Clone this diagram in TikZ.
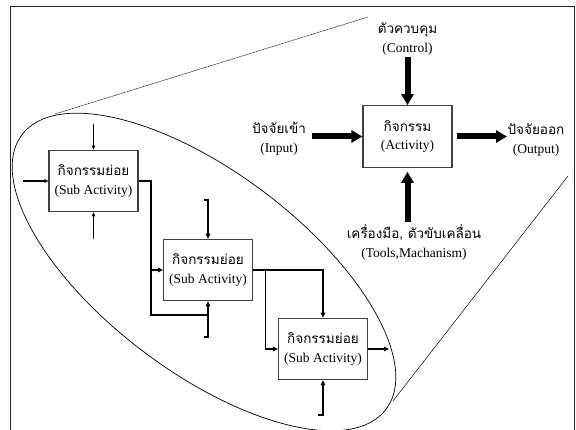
\documentclass[tikz,border=0pt]{standalone}
\usepackage{fontspec}
\setmainfont{Liberation Serif}
\newfontfamily\thai[Script=Thai]{Loma}
\usetikzlibrary{arrows.meta}
\begin{document}
\begin{tikzpicture}[x=1pt,y=-1pt,
  box/.style={draw=black!75, line width=1.2pt, minimum width=89pt, minimum height=61.5pt, inner sep=0pt, align=center, font=\fontsize{13.5}{18.5}\selectfont},
  big/.style={line width=6pt, -{Triangle[length=11pt,width=12pt]}},
  thinarr/.style={line width=1.1pt, -{Triangle[length=4pt,width=3.5pt]}},
  conn/.style={line width=1.6pt, line join=miter, -{Triangle[length=5pt,width=4.5pt]}},
  flow/.style={line width=1.6pt, line join=miter},
  lbl/.style={align=center, font=\fontsize{13.5}{19}\selectfont, inner sep=0pt}]
\useasboundingbox (0,0) rectangle (576,430);
% frame
\draw[line width=1pt, black!85] (10,430) -- (10,7) -- (574,7) -- (574,430);
% zoom lines and ellipse
\draw[line width=0.7pt, rotate around={-37:(204,272)}] (204,272) ellipse [x radius=228pt, y radius=100pt];
\draw[line width=0.5pt, dash pattern=on 1.2pt off 0.6pt] (55,114) -- (368,17);
\draw[line width=0.5pt] (393,401) -- (568,176);
% main activity
\node[box] (act) at (407.5,136.5) {{\thai กิจกรรม}\\(Activity)};
\node[lbl] (ctl) at (407.5,39.5) {{\thai ตัวควบคุม}\\(Control)};
\node[lbl] (inp) at (279,138.5) {{\thai ปัจจัยเข้า}\\(Input)};
\node[lbl] (outp) at (536,140) {{\thai ปัจจัยออก}\\(Output)};
\node[lbl] (mech) at (414,242.5) {{\thai เครื่องมือ, ตัวขับเคลื่อน}\\(Tools,Machanism)};
\coordinate (ctlS) at (407.5,57);
\coordinate (inpS) at (312,136.5);
\coordinate (outE) at (507,136.5);
\coordinate (mechS) at (407.5,222);
\draw[big] (ctlS) -- (act.north);
\draw[big] (inpS) -- (act.west);
\draw[big] ([xshift=4pt]act.east) -- (outE);
\draw[big] (mechS) -- ([yshift=-4pt]act.south);
% sub activities
\node[box] (s1) at (93.5,181) {{\thai กิจกรรมย่อย}\\(Sub Activity)};
\node[box] (s2) at (208,270) {{\thai กิจกรรมย่อย}\\(Sub Activity)};
\node[box] (s3) at (323,349) {{\thai กิจกรรมย่อย}\\(Sub Activity)};
% box 1 inputs
\coordinate (s1t) at (93.5,124);
\coordinate (s1l) at (23,181);
\coordinate (s1b) at (93.5,239);
\draw[thinarr] (s1t) -- (s1.north);
\draw[thinarr] (s1l) -- (s1.west);
\draw[thinarr] (s1b) -- (s1.south);
% box 1 output
\coordinate (j1) at (151,270);
\coordinate (j1b) at (151,315);
\coordinate (j1c) at (208,315);
\draw[flow] (s1.east) -| (j1b) -- (j1c);
\draw[conn] (j1) -- (s2.west);
% box 2 brackets
\coordinate (s2ta) at (204,200);
\coordinate (s2tb) at (208,200);
\coordinate (s2ba) at (204,337);
\coordinate (s2bb) at (208,337);
\draw[conn] (s2ta) -- (s2tb) -- (s2.north);
\draw[conn] (s2ba) -- (s2bb) -- (s2.south);
% box 2 output
\coordinate (j2) at (265.5,270);
\draw[conn] (s2.east) -| (s3.north);
\draw[conn] (j2) |- (s3.west);
% box 3
\coordinate (s3o) at (389,349);
\coordinate (s3ba) at (318,415);
\coordinate (s3bb) at (323,415);
\draw[conn] (s3.east) -- (s3o);
\draw[conn] (s3ba) -- (s3bb) -- (s3.south);
\end{tikzpicture}
\end{document}
